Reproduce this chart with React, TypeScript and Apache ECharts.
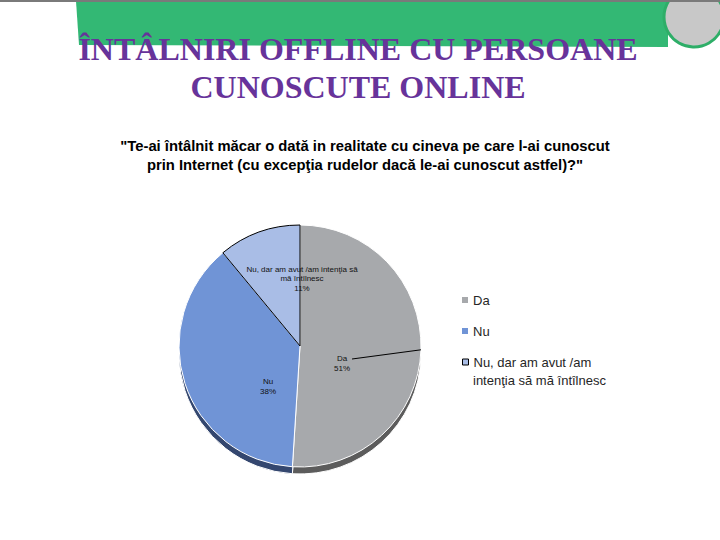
import React, { useEffect, useRef } from "react";
import * as echarts from "echarts";

const categories = ["Da", "Nu", "Nu, dar am avut /am intenţia să mă întîlnesc"];
const values = [51, 38, 11];
const sliceLabels = ["Da", "Nu", "Nu, dar am avut /am intenţia să\nmă întîlnesc"];
const legendFirstLines = ["Da", "Nu", "Nu, dar am avut /am"];
const legendSecondLine = "intenţia să mă întîlnesc";
const titleLines = ["ÎNTÂLNIRI OFFLINE CU PERSOANE", "CUNOSCUTE ONLINE"];
const questionLines = [
  "\"Te-ai întâlnit măcar o dată in realitate cu cineva pe care l-ai cunoscut",
  "prin Internet (cu excepţia rudelor dacă le-ai cunoscut astfel)?\"",
];

const faceColors = ["#A7A9AC", "#7094D6", "#A9BDE6"];
const sideColors = ["#5C5C5C", "#34476F", "#4B5E8C"];
const borderColors = ["#FFFFFF", "#FFFFFF", "#000000"];

const CX = 300;
const CY = 346;
const R = 121;
const DEPTH = 7;
// label centre offsets from the pie centre (layout only)
const labelOffsets = [
  [42, 17.5],
  [-32, 40.5],
  [2, -67.5],
];
const LEGEND_LEFT = 462;
const LEGEND_ICON = 6;
const legendCentres = [300, 331, 362];
const LEGEND_LINE = 18;
const SANS = "'Liberation Sans', Arial, sans-serif";

export default function App() {
  const ref = useRef<HTMLDivElement>(null);

  useEffect(() => {
    if (!ref.current) return;
    const chart = echarts.init(ref.current, undefined, { renderer: "svg" });

    const total = values.reduce((a, b) => a + b, 0);
    const midDa = (2 * Math.PI * (values[0] / 2)) / total;
    const edge = [CX + R * Math.sin(midDa), CY - R * Math.cos(midDa)];
    const leaderStart = [CX + labelOffsets[0][0] + 10, CY + labelOffsets[0][1] - 4.5];

    const mainData = categories.map((name, i) => ({
      name,
      value: values[i],
      itemStyle: {
        color: faceColors[i],
        borderColor: borderColors[i],
        borderWidth: 1,
      },
    }));

    const sideData = categories.map((name, i) => ({
      name,
      value: values[i],
      itemStyle: { color: sideColors[i], borderColor: "#FFFFFF", borderWidth: 1 },
    }));

    const legends = categories.map((name, i) => ({
      orient: "vertical" as const,
      left: LEGEND_LEFT,
      top: legendCentres[i] - LEGEND_LINE / 2,
      padding: 0,
      itemWidth: LEGEND_ICON,
      itemHeight: LEGEND_ICON,
      selectedMode: false,
      icon: "rect",
      data: [
        {
          name,
          itemStyle:
            i === 2
              ? { color: faceColors[i], borderColor: "#000", borderWidth: 1 }
              : { color: faceColors[i], borderWidth: 0 },
        },
      ],
      formatter: () => legendFirstLines[i],
      textStyle: {
        fontFamily: SANS,
        fontSize: 13,
        color: "#262626",
        lineHeight: LEGEND_LINE,
      },
    }));

    const option: any = {
      animation: false,
      backgroundColor: "#FFFFFF",
      legend: legends,
      graphic: [
        {
          type: "polygon",
          z: 0,
          shape: { points: [[76, 1], [668, 1], [668, 47], [79, 45]] },
          style: { fill: "#33B874" },
        },
        {
          type: "circle",
          z: 1,
          shape: { cx: 694, cy: 17, r: 30 },
          style: { fill: "#C8C8C8", stroke: "#2EAE68", lineWidth: 3 },
        },
        {
          type: "rect",
          z: 2,
          shape: { x: 0, y: 0, width: 720, height: 2 },
          style: { fill: "#7A7A7A" },
        },
        ...titleLines.map((t, i) => ({
          type: "text",
          z: 5,
          x: 358,
          y: 49 + i * 38,
          style: {
            text: t,
            fill: "#67339A",
            font: "bold 32px 'Liberation Serif', 'Times New Roman', serif",
            textAlign: "center",
            textVerticalAlign: "middle",
          },
        })),
        ...questionLines.map((t, i) => ({
          type: "text",
          z: 5,
          x: 365,
          y: 146 + i * 19,
          style: {
            text: t,
            fill: "#000000",
            font: `bold 14.8px ${SANS}`,
            textAlign: "center",
            textVerticalAlign: "middle",
          },
        })),
        {
          type: "text",
          z: 5,
          x: LEGEND_LEFT + LEGEND_ICON + 5,
          y: legendCentres[2] + LEGEND_LINE,
          style: {
            text: legendSecondLine,
            fill: "#262626",
            font: `13px ${SANS}`,
            textAlign: "left",
            textVerticalAlign: "middle",
          },
        },
        {
          type: "polyline",
          z: 10,
          shape: { points: [leaderStart, edge] },
          style: { stroke: "#000000", lineWidth: 1, fill: "none" },
        },
      ],
      series: [
        {
          name: "main",
          type: "pie",
          z: 3,
          center: [CX, CY],
          radius: R,
          startAngle: 90,
          clockwise: true,
          avoidLabelOverlap: false,
          data: mainData,
          label: {
            show: true,
            position: "inside",
            formatter: (p: any) => `${sliceLabels[p.dataIndex]}\n${values[p.dataIndex]}%`,
            fontFamily: SANS,
            fontSize: 8,
            lineHeight: 9.5,
            color: "#111111",
            align: "center",
          },
          labelLine: { show: false },
          labelLayout: (params: any) => {
            const off = labelOffsets[params.dataIndex];
            return {
              x: CX + off[0],
              y: CY + off[1],
              align: "center",
              verticalAlign: "middle",
            };
          },
          emphasis: { disabled: true },
        },
        {
          name: "side",
          type: "pie",
          z: 2,
          silent: true,
          center: [CX, CY + DEPTH],
          radius: R,
          startAngle: 90,
          clockwise: true,
          label: { show: false },
          labelLine: { show: false },
          data: sideData,
          emphasis: { disabled: true },
        },
      ],
    };

    chart.setOption(option);
    return () => chart.dispose();
  }, []);

  return (
    <div
      ref={ref}
      style={{ position: "absolute", left: 0, top: 0, width: 720, height: 540 }}
    />
  );
}
